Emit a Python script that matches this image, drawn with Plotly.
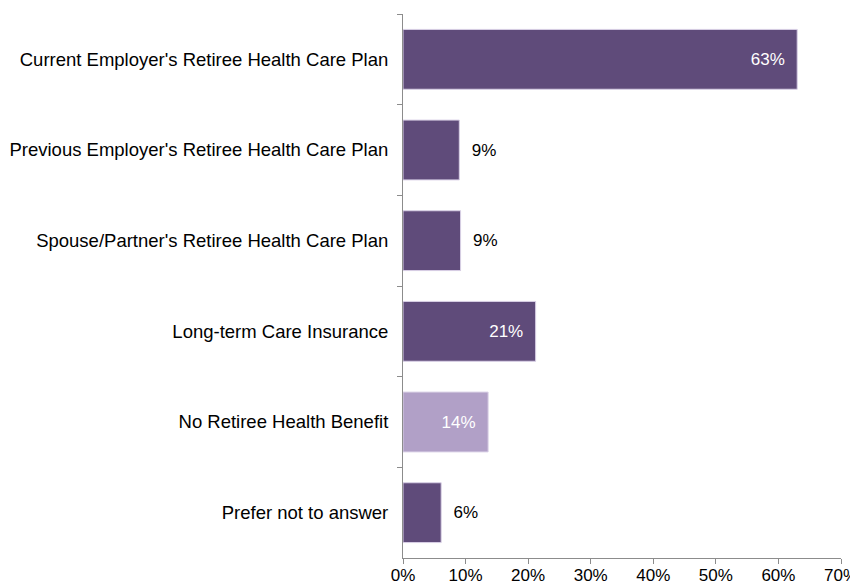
import plotly.graph_objects as go

categories = [
    "Current Employer's Retiree Health Care Plan",
    "Previous Employer's Retiree Health Care Plan",
    "Spouse/Partner's Retiree Health Care Plan",
    "Long-term Care Insurance",
    "No Retiree Health Benefit",
    "Prefer not to answer",
]
values = [63.0, 9.0, 9.2, 21.2, 13.6, 6.1]
labels = ["63%", "9%", "9%", "21%", "14%", "6%"]
x_ticks = [0, 10, 20, 30, 40, 50, 60, 70]
x_tick_labels = ["0%", "10%", "20%", "30%", "40%", "50%", "60%", "70%"]

dark = "#5F4B7A"
light = "#B1A0C7"
colors = [dark, dark, dark, dark, light, dark]
positions = ["inside", "outside", "outside", "inside", "inside", "outside"]
text_colors = ["white", "black", "black", "white", "white", "black"]
templates = ["%{text}  " if p == "inside" else "  %{text}" for p in positions]

FONT = "Liberation Sans, Arial, sans-serif"

fig = go.Figure(go.Bar(
    y=categories,
    x=values,
    orientation="h",
    marker=dict(color=colors, line=dict(color="#D9D0E6", width=1)),
    text=labels,
    texttemplate=templates,
    textposition=positions,
    insidetextanchor="end",
    textfont=dict(family=FONT, size=17, color=text_colors),
    cliponaxis=False,
))

fig.update_layout(
    width=850, height=580,
    margin=dict(l=395, r=17, t=6, b=30, autoexpand=False),
    paper_bgcolor="white", plot_bgcolor="white",
    bargap=0.34,
    showlegend=False,
    font=dict(family=FONT, size=17, color="black"),
    uniformtext=dict(mode=False),
)
fig.update_xaxes(
    range=[0, 70], tickvals=x_ticks, ticktext=x_tick_labels,
    showgrid=False, zeroline=False, automargin=False,
    showline=True, linecolor="#8C8C8C", linewidth=1,
    ticks="outside", ticklen=5, tickcolor="#8C8C8C",
    tickfont=dict(size=17), ticklabeloverflow="allow",
    ticklabelstandoff=-3,
)
fig.update_yaxes(
    categoryorder="array", categoryarray=categories, autorange="reversed",
    showgrid=False, zeroline=False, automargin=False,
    showline=True, linecolor="#8C8C8C", linewidth=1,
    ticks="outside", ticklen=5, tickcolor="#8C8C8C", tickson="boundaries",
    ticklabelstandoff=10,
    tickfont=dict(size=18.5),
)

fig.write_html("out.html")
